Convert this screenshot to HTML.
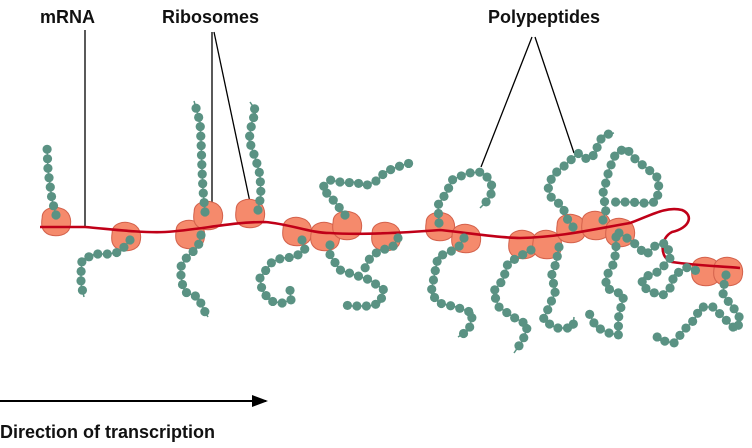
<!DOCTYPE html>
<html><head><meta charset="utf-8"><style>
html,body{margin:0;padding:0;background:#fff;width:752px;height:448px;overflow:hidden}
svg{display:block}
text{font-family:"Liberation Sans",sans-serif;font-weight:bold;font-size:18px;fill:#111}
</style></head><body>
<svg id="s" width="752" height="448" viewBox="0 0 752 448">
<defs><marker id="ah" markerWidth="8" markerHeight="6" refX="7" refY="3" orient="auto" markerUnits="strokeWidth"><path d="M0,0 L8,3 L0,6 z" fill="#000"/></marker></defs>
<text x="40" y="23">mRNA</text>
<text x="162" y="23">Ribosomes</text>
<text x="488" y="23">Polypeptides</text>
<text x="0" y="438">Direction of transcription</text>
<g stroke="#000" stroke-width="1.3" fill="none">
<line x1="85" y1="30" x2="85" y2="227"/>
<line x1="212" y1="32" x2="212" y2="205"/>
<line x1="214" y1="32" x2="251" y2="207"/>
<line x1="532" y1="37" x2="481" y2="167"/>
<line x1="535" y1="37" x2="574" y2="153"/>
<line x1="0" y1="401" x2="266" y2="401" stroke-width="2" marker-end="url(#ah)"/>
</g>
<g id="rib"></g>
<path d="M40,227 L85,227 C110,229 140,233 165,232 C200,230 230,222 265,222 C290,224 310,233 330,233 C360,235 400,233 440,230 C470,233 500,238 520,238 C560,237 590,230 630,223 C650,216 665,206 682,210 C694,215 690,228 672,232 C660,238 659,258 672,262 C700,266 720,266 740,268" stroke="#c00018" stroke-width="2.6" fill="none"/>
<g id="beads" fill="#5a9283" stroke="#5a9283" stroke-width="1.5"></g>
</svg>
<script>
var NS="http://www.w3.org/2000/svg";
var ribs=[[56,222],[126,237],[190,235],[208,216],[250,214],[297,232],[325,237],[386,237],[440,227],[466,239],[523,245],[547,245],[571,229],[596,226],[620,233],[706,272],[728,272],[347,226]];
var rg=document.getElementById("rib");
ribs.forEach(function(r){var x=r[0],y=r[1];var p=document.createElementNS(NS,"path");
p.setAttribute("d","M-12,-4 C-12,-12 -2,-14 4,-12 C12,-10 14,-2 12,5 C10,12 0,13 -6,11 C-13,8 -13,2 -12,-4z");
p.setAttribute("transform","translate("+x+","+y+") scale(1.15)");
p.setAttribute("fill","#f58a6c");p.setAttribute("stroke","#d4624c");p.setAttribute("stroke-width","0.9");rg.appendChild(p);});
var chains=[
[[56,215],[52,200],[50,185],[48,170],[47,147]],
[[130,240],[120,252],[108,254],[95,254],[82,260],[81,273],[81,284],[84,297]],
[[205,212],[203,190],[202,170],[201,140],[200,122],[194,101]],
[[201,235],[198,247],[187,257],[180,268],[182,283],[185,292],[198,297],[205,312],[208,317]],
[[258,210],[261,195],[260,175],[256,160],[249,140],[252,122],[256,111],[250,102]],
[[302,240],[305,250],[295,257],[282,258],[272,262],[260,278],[262,290],[270,301],[282,303],[291,300],[290,290]],
[[330,245],[330,255],[340,270],[355,275],[370,280],[384,290],[380,303],[370,306],[352,306],[344,305]],
[[345,215],[335,202],[322,188],[330,180],[345,183],[355,182],[365,186],[378,180],[385,172],[397,167],[410,163]],
[[439,223],[438,205],[447,192],[452,180],[468,173],[482,172],[490,180],[493,190],[488,200],[480,208]],
[[464,238],[458,248],[438,257],[434,277],[431,293],[439,303],[456,307],[473,313],[469,330],[458,337]],
[[531,250],[508,263],[503,280],[493,292],[499,307],[513,317],[528,325],[523,340],[514,353]],
[[559,247],[556,263],[551,277],[556,290],[549,307],[543,320],[556,328],[573,328],[574,317]],
[[573,227],[566,217],[563,207],[551,197],[548,187],[553,175],[563,167],[573,158],[579,153],[588,160],[596,153],[598,143],[604,135],[614,133]],
[[603,220],[606,210],[603,193],[606,182],[609,170],[616,153],[626,148],[636,160],[649,170],[658,178],[659,190],[656,202],[644,203],[629,202],[613,202]],
[[616,237],[616,250],[614,263],[606,277],[606,288],[624,295],[621,307],[618,320],[619,335],[609,333],[596,327],[589,313]],
[[619,233],[633,242],[646,255],[656,245],[666,243],[671,257],[663,267],[656,273],[644,277],[641,285],[651,292],[663,295],[671,287],[674,275],[688,267],[699,272]],
[[726,275],[724,285],[723,295],[733,307],[741,320],[736,330],[726,320],[713,307],[701,307],[694,320],[684,330],[674,343],[659,340],[656,335]],
[[398,238],[392,248],[380,250],[370,258],[365,268]]
];
var bg=document.getElementById("beads");
chains.forEach(function(c){
 var pl=document.createElementNS(NS,"polyline");pl.setAttribute("points",c.map(function(p){return p.join(",")}).join(" "));pl.setAttribute("fill","none");bg.appendChild(pl);
 var acc=0,sp=9.5;
 for(var i=0;i<c.length-1;i++){var a=c[i],b=c[i+1],dx=b[0]-a[0],dy=b[1]-a[1],L=Math.sqrt(dx*dx+dy*dy);
  var t=acc;while(t<=L){var ci=document.createElementNS(NS,"circle");ci.setAttribute("cx",a[0]+dx*t/L);ci.setAttribute("cy",a[1]+dy*t/L);ci.setAttribute("r",4.6);ci.setAttribute("stroke","none");bg.appendChild(ci);t+=sp;}
  acc=t-L;}
});
</script>
</body></html>
